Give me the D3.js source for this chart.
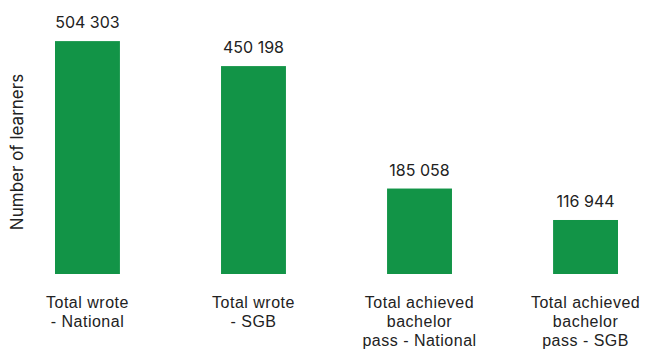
<!DOCTYPE html>
<html>
<head>
<meta charset="utf-8">
<script src="https://cdn.jsdelivr.net/npm/d3@7"></script>
<style>
  html, body { margin: 0; padding: 0; background: #ffffff; }
  svg { display: block; font-family: Inter, "Noto Sans", sans-serif; }
</style>
</head>
<body>
<svg id="chart" width="646" height="349"></svg>
<script>
// Learners who wrote the exam and achieved a bachelor pass
const categories = [
  "Total wrote - National",
  "Total wrote - SGB",
  "Total achieved bachelor pass - National",
  "Total achieved bachelor pass - SGB"
];
// Wrapped label lines for each category
const categoryLines = [
  ["Total wrote", "- National"],
  ["Total wrote", "- SGB"],
  ["Total achieved", "bachelor", "pass - National"],
  ["Total achieved", "bachelor", "pass - SGB"]
];
const learners = [504303, 450198, 185058, 116944];
const yTitle = "Number of learners";

const svg = d3.select("#chart");

const x = d3.scaleBand()
  .domain(categories)
  .range([55, 618])
  .paddingInner(0.609)
  .paddingOuter(0);

const y = d3.scaleLinear()
  .domain([0, 550000])
  .range([274, 20]);

const fmt = v => d3.format(",")(v).replace(/,/g, " ");
const barColor = "#129447";
const textColor = "#222222";

// Bars
svg.append("g")
  .selectAll("rect")
  .data(categories)
  .join("rect")
  .attr("x", d => x(d))
  .attr("y", (d, i) => y(learners[i]))
  .attr("width", x.bandwidth())
  .attr("height", (d, i) => y(0) - y(learners[i]))
  .attr("fill", barColor);

// Value labels above bars
svg.append("g")
  .selectAll("text")
  .data(categories)
  .join("text")
  .attr("x", d => x(d) + x.bandwidth() / 2)
  .attr("y", (d, i) => y(learners[i]) - 13)
  .attr("text-anchor", "middle")
  .attr("font-size", 16)
  .attr("fill", textColor)
  .text((d, i) => fmt(learners[i]));

// Category axis (no line, no ticks), multi-line labels
const xAxis = svg.append("g")
  .attr("transform", `translate(0,${y(0)})`)
  .call(d3.axisBottom(x).tickSize(0).tickFormat(""));
xAxis.select(".domain").remove();
xAxis.selectAll(".tick").each(function(d, i) {
  const t = d3.select(this).append("text")
    .attr("text-anchor", "middle")
    .attr("font-size", 16)
    .attr("letter-spacing", 0.5)
    .attr("fill", textColor)
    .attr("y", 34);
  categoryLines[i].forEach((line, k) => {
    t.append("tspan").attr("x", 0).attr("dy", k === 0 ? 0 : 19).text(line);
  });
});

// Y axis title
svg.append("text")
  .attr("transform", `translate(23,152) rotate(-90)`)
  .attr("text-anchor", "middle")
  .attr("font-size", 17)
  .attr("fill", textColor)
  .text(yTitle);
</script>
</body>
</html>
